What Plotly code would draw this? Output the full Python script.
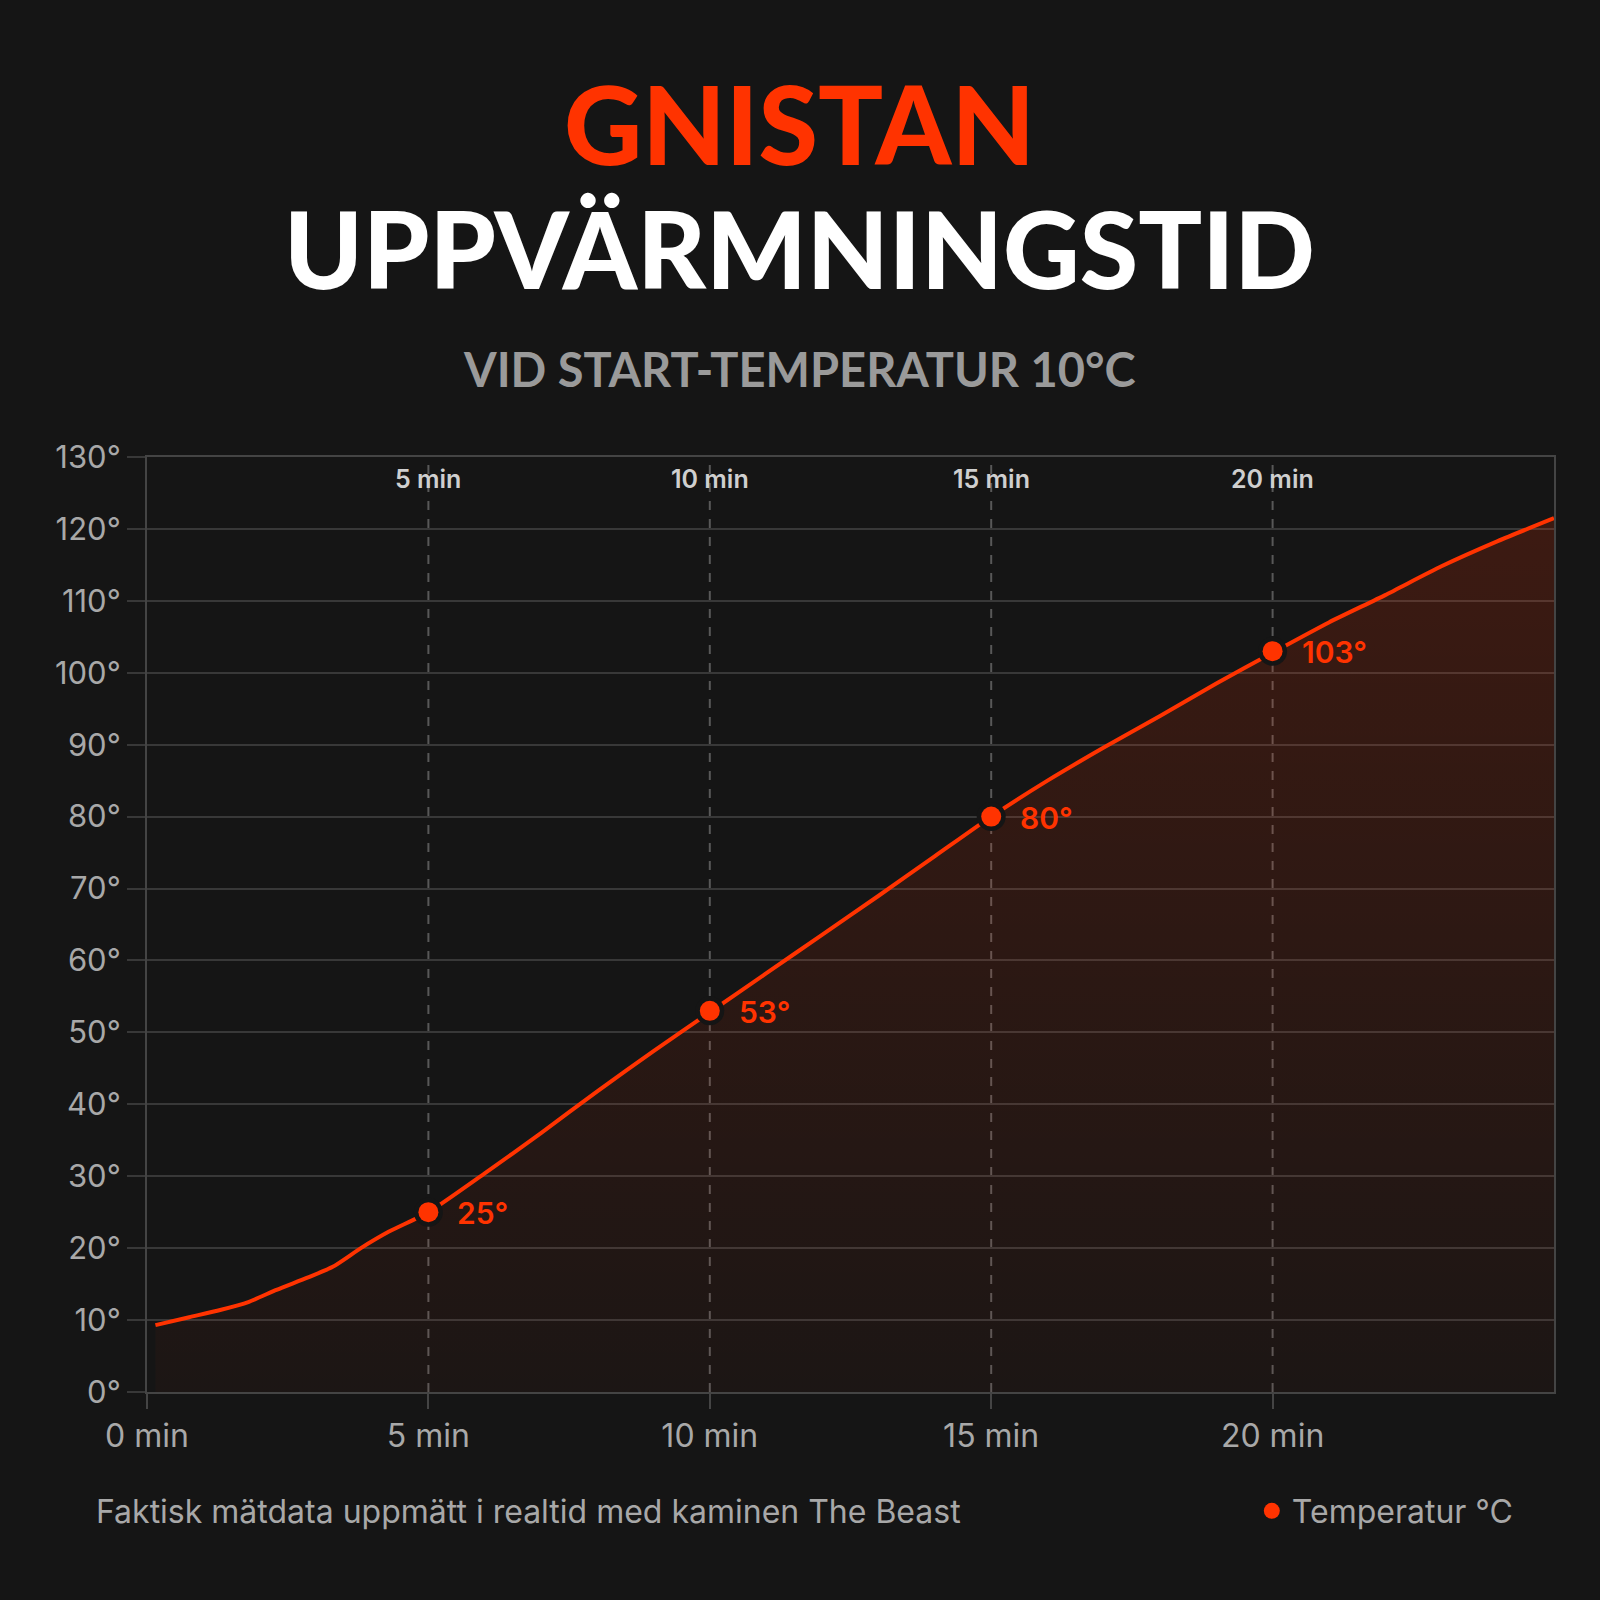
import plotly.graph_objects as go

# ---- data ----
time_min = [0.15, 0.75, 1.3, 1.8, 2.3, 2.85, 3.3, 3.8, 4.3, 5.0, 6.0, 7.0, 8.0, 9.0, 10.0,
            11.0, 12.0, 13.0, 14.0, 15.0, 16.0, 17.0, 18.0, 19.0, 20.0, 21.0, 22.0, 23.0, 24.0, 25.0]
temp_c = [9.3, 10.4, 11.4, 12.5, 14.2, 15.9, 17.4, 20.0, 22.3, 25.0, 30.4, 36.0, 41.8, 47.4, 52.8,
          58.2, 63.6, 69.0, 74.5, 80.0, 85.0, 89.6, 94.0, 98.5, 102.8, 107.0, 110.8, 114.8, 118.3, 121.5]
mark_min = [5, 10, 15, 20]
mark_temp = [25, 53, 80, 103]
x_ticks = [0, 5, 10, 15, 20]
x_tick_text = ["0 min", "5 min", "10 min", "15 min", "20 min"]
y_ticks = list(range(0, 131, 10))
y_tick_text = [f"{v}°" for v in y_ticks]

RED = "#ff3300"
BG = "#151515"
GRID = "#383838"

fig = go.Figure()

fig.add_trace(go.Scatter(
    x=time_min, y=temp_c, mode="lines",
    line=dict(color=RED, width=4, shape="spline", smoothing=0.6),
    fill="tozeroy",
    fillgradient=dict(type="vertical", start=0, stop=122,
                      colorscale=[[0, "rgba(255,51,0,0.03)"], [1, "rgba(255,51,0,0.17)"]]),
    showlegend=False, hoverinfo="skip"))

# dark halo behind the highlighted points
fig.add_trace(go.Scatter(
    x=mark_min, y=mark_temp, mode="markers",
    marker=dict(color=BG, size=29), showlegend=False, hoverinfo="skip"))

fig.add_trace(go.Scatter(
    x=mark_min, y=mark_temp, mode="markers", name="Temperatur °C",
    marker=dict(color=RED, size=20), showlegend=True))

annotations = []
for t, v in zip(mark_min, mark_temp):
    annotations.append(dict(x=t, y=v, xref="x", yref="y", text=f"{v}°",
                            showarrow=False, xanchor="left", yanchor="middle", xshift=27, yshift=-1,
                            font=dict(family="Inter", size=30, color=RED, weight=600)))
for t, lab in zip(x_ticks[1:], x_tick_text[1:]):
    annotations.append(dict(x=t, y=0.9765, xref="x", yref="paper", text=lab,
                            showarrow=False, xanchor="center", yanchor="middle",
                            font=dict(family="Inter", size=25, color="#cfcfcf", weight=600)))

annotations += [
    dict(x=0.4641, y=1.357, xref="paper", yref="paper", text="GNISTAN", showarrow=False,
         xanchor="center", yanchor="middle", font=dict(family="Lato", size=108, color=RED, weight=900)),
    dict(x=0.4641, y=1.2235, xref="paper", yref="paper", text="UPPVÄRMNINGSTID", showarrow=False,
         xanchor="center", yanchor="middle", font=dict(family="Lato", size=106, color="#ffffff", weight=900)),
    dict(x=0.4641, y=1.0941, xref="paper", yref="paper", text="VID START-TEMPERATUR 10°C",
         showarrow=False, xanchor="center", yanchor="middle",
         font=dict(family="Lato", size=47, color="#9a9a9a", weight=700)),
    dict(x=-0.0377, y=-0.1273, xref="paper", yref="paper",
         text="Faktisk mätdata uppmätt i realtid med kaminen The Beast", showarrow=False,
         xanchor="left", yanchor="middle", font=dict(family="Inter", size=32, color="#a8a8a8")),
]

shapes = []
for t in x_ticks[1:]:
    shapes.append(dict(type="line", x0=t, x1=t, y0=0, y1=1, xref="x", yref="paper",
                       line=dict(color="#585858", width=2, dash="dash"), layer="below"))

fig.update_layout(
    width=1600, height=1600,
    paper_bgcolor=BG, plot_bgcolor=BG,
    margin=dict(l=147, r=46, t=457, b=208),
    font=dict(family="Inter", color="#a8a8a8"),
    annotations=annotations, shapes=shapes,
    legend=dict(x=0.975, y=-0.1273, xanchor="right", yanchor="middle",
                font=dict(family="Inter", size=32, color="#a8a8a8"),
                bgcolor="rgba(0,0,0,0)", itemsizing="trace"),
    xaxis=dict(range=[0, 25], tickvals=x_ticks, ticktext=x_tick_text,
               showgrid=False, zeroline=False, showline=True, linecolor="#444444", linewidth=2,
               mirror=True, ticks="outside", ticklen=15, tickcolor="#444444", tickwidth=2,
               tickfont=dict(family="Inter", size=32, color="#a8a8a8")),
    yaxis=dict(range=[0, 130], tickvals=y_ticks, ticktext=y_tick_text,
               showgrid=True, gridcolor=GRID, gridwidth=2, zeroline=False,
               showline=True, linecolor="#444444", linewidth=2, mirror=True,
               ticks="outside", ticklen=18, tickcolor=GRID, tickwidth=2,
               tickfont=dict(family="Inter", size=31, color="#a8a8a8")),
)

fig.write_html("out.html", config={"displayModeBar": False},
               post_script="document.body.style.margin='0';")
